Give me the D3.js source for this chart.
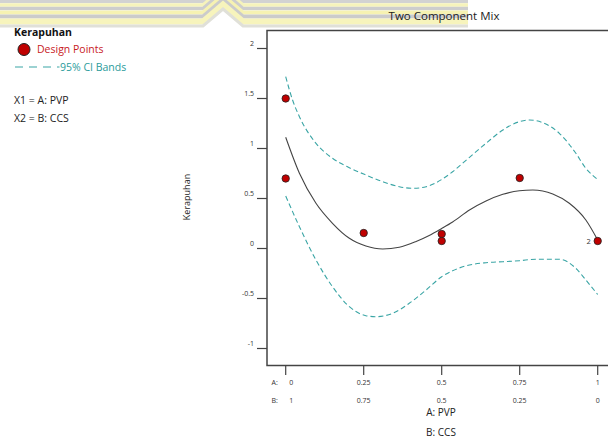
<!DOCTYPE html>
<html>
<head>
<meta charset="utf-8">
<script src="https://cdn.jsdelivr.net/npm/d3@7"></script>
<style>
  body { margin: 0; background: #fff; }
  svg { display: block; font-family: "Open Sans", "Noto Sans", sans-serif; }
</style>
</head>
<body>
<div id="chart"></div>
<script>
// design points (A: PVP fraction, response)
const pointA = [0, 0, 0.25, 0.5, 0.5, 0.75, 1];
const pointY = [1.5, 0.7, 0.155, 0.145, 0.075, 0.705, 0.075];

// fitted curve
const fitA = [0, 0.044, 0.097, 0.15, 0.204, 0.257, 0.311, 0.364, 0.418, 0.46, 0.5, 0.535, 0.589, 0.642, 0.696, 0.749, 0.792, 0.856, 0.909, 0.962, 1];
const fitY = [1.112, 0.752, 0.452, 0.252, 0.102, 0.025, -0.005, 0.012, 0.07, 0.13, 0.2, 0.265, 0.385, 0.475, 0.542, 0.578, 0.585, 0.545, 0.452, 0.285, 0.085];

// 95% CI bands
const upA = [0, 0.022, 0.044, 0.097, 0.15, 0.204, 0.257, 0.311, 0.364, 0.407, 0.45, 0.5, 0.535, 0.589, 0.642, 0.696, 0.749, 0.781, 0.824, 0.877, 0.93, 0.962, 1];
const upY = [1.718, 1.485, 1.318, 1.052, 0.902, 0.808, 0.735, 0.668, 0.618, 0.602, 0.618, 0.69, 0.768, 0.912, 1.052, 1.185, 1.268, 1.285, 1.258, 1.152, 0.952, 0.802, 0.69];
const lowA = [0, 0.044, 0.097, 0.15, 0.204, 0.257, 0.289, 0.343, 0.396, 0.45, 0.5, 0.535, 0.589, 0.642, 0.696, 0.749, 0.802, 0.877, 0.93, 0.962, 1];
const lowY = [0.525, 0.218, -0.115, -0.382, -0.582, -0.672, -0.682, -0.648, -0.548, -0.415, -0.282, -0.222, -0.165, -0.142, -0.132, -0.122, -0.108, -0.108, -0.198, -0.315, -0.46];

const xTicks = [0, 0.25, 0.5, 0.75, 1];
const aLabels = ["0", "0.25", "0.5", "0.75", "1"];
const bLabels = ["1", "0.75", "0.5", "0.25", "0"];
const yTicks = [-1, -0.5, 0, 0.5, 1, 1.5, 2];

const W = 608, H = 442;
const svg = d3.select("#chart").append("svg").attr("width", W).attr("height", H);

// faded banner at the top of the image
const banner = svg.append("g").attr("class", "banner");
const stripes = [
  {y: 1.5, c: "#d2d2d2", w: 3.5}, {y: 5, c: "#f6f3bb", w: 3.5},
  {y: 8.5, c: "#cdcdcd", w: 3.5}, {y: 12.5, c: "#f6f2b2", w: 4},
  {y: 16.5, c: "#cbcbcb", w: 4}, {y: 21.5, c: "#f7f4bc", w: 6},
  {y: 26, c: "#e0e0d8", w: 3}
];
stripes.forEach(s => {
  banner.append("path")
    .attr("d", `M0,${s.y} L203,${s.y} L223,${s.y - 17} L243,${s.y} L468,${s.y}`)
    .attr("fill", "none")
    .attr("stroke", s.c)
    .attr("stroke-width", s.w);
});

const x = d3.scaleLinear().domain([0, 1]).range([285.7, 597.7]);
const y = d3.scaleLinear().domain([-1, 2]).range([348.5, 48.5]);

const frame = {left: 267, top: 30.5, right: 614, bottom: 365.5};

// title
svg.append("text")
  .attr("x", 444).attr("y", 20)
  .attr("text-anchor", "middle")
  .attr("font-size", 11.5).attr("fill", "#222")
  .text("Two Component Mix");

// clip for curves
svg.append("clipPath").attr("id", "plotclip")
  .append("rect")
  .attr("x", frame.left).attr("y", frame.top)
  .attr("width", frame.right - frame.left).attr("height", frame.bottom - frame.top);

const plot = svg.append("g").attr("clip-path", "url(#plotclip)");

const line = d3.line()
  .x(d => x(d[0]))
  .y(d => y(d[1]))
  .curve(d3.curveMonotoneX);

plot.append("path")
  .datum(d3.zip(upA, upY))
  .attr("d", line)
  .attr("fill", "none").attr("stroke", "#3aa5a5")
  .attr("stroke-width", 1.1).attr("stroke-dasharray", "5,3");

plot.append("path")
  .datum(d3.zip(lowA, lowY))
  .attr("d", line)
  .attr("fill", "none").attr("stroke", "#3aa5a5")
  .attr("stroke-width", 1.1).attr("stroke-dasharray", "5,3");

plot.append("path")
  .datum(d3.zip(fitA, fitY))
  .attr("d", line)
  .attr("fill", "none").attr("stroke", "#444")
  .attr("stroke-width", 1.1);

// frame
svg.append("rect")
  .attr("x", frame.left).attr("y", frame.top)
  .attr("width", frame.right - frame.left).attr("height", frame.bottom - frame.top)
  .attr("fill", "none").attr("stroke", "#444").attr("stroke-width", 1.5);

// y axis
const yAxis = svg.append("g").attr("class", "y-axis");
yAxis.selectAll("line").data(yTicks).enter().append("line")
  .attr("x1", 257).attr("x2", frame.left)
  .attr("y1", d => y(d)).attr("y2", d => y(d))
  .attr("stroke", "#444").attr("stroke-width", 1.2);
yAxis.selectAll("text").data(yTicks).enter().append("text")
  .attr("x", 254).attr("y", d => y(d) - 2.5)
  .attr("text-anchor", "end").attr("font-size", 7).attr("fill", "#333")
  .text(d => d);

svg.append("text")
  .attr("transform", "translate(190,197) rotate(-90)")
  .attr("text-anchor", "middle").attr("font-size", 9).attr("fill", "#222")
  .text("Kerapuhan");

// x axis
const xAxis = svg.append("g").attr("class", "x-axis");
xAxis.selectAll("line").data(xTicks).enter().append("line")
  .attr("x1", d => x(d)).attr("x2", d => x(d))
  .attr("y1", frame.bottom).attr("y2", 375)
  .attr("stroke", "#444").attr("stroke-width", 1.2);
xAxis.selectAll("text.a").data(xTicks).enter().append("text")
  .attr("class", "a")
  .attr("x", (d, i) => i === 0 ? x(d) + 5.5 : x(d)).attr("y", 385)
  .attr("text-anchor", "middle").attr("font-size", 7).attr("fill", "#333")
  .text((d, i) => aLabels[i]);
xAxis.selectAll("text.b").data(xTicks).enter().append("text")
  .attr("class", "b")
  .attr("x", (d, i) => i === 0 ? x(d) + 5.5 : x(d)).attr("y", 403)
  .attr("text-anchor", "middle").attr("font-size", 7).attr("fill", "#333")
  .text((d, i) => bLabels[i]);
xAxis.append("text").attr("x", 271.5).attr("y", 385)
  .attr("font-size", 7).attr("fill", "#333").text("A:");
xAxis.append("text").attr("x", 271.5).attr("y", 403)
  .attr("font-size", 7).attr("fill", "#333").text("B:");

svg.append("text").attr("x", 441).attr("y", 416)
  .attr("text-anchor", "middle").attr("font-size", 10).attr("fill", "#222")
  .text("A: PVP");
svg.append("text").attr("x", 441).attr("y", 436)
  .attr("text-anchor", "middle").attr("font-size", 10).attr("fill", "#222")
  .text("B: CCS");

// design points
svg.append("g").selectAll("circle")
  .data(d3.zip(pointA, pointY)).enter().append("circle")
  .attr("cx", d => x(d[0])).attr("cy", d => y(d[1]))
  .attr("r", 3.7)
  .attr("fill", "#c00000").attr("stroke", "#222").attr("stroke-width", 0.8);

svg.append("text")
  .attr("x", x(1) - 7).attr("y", y(pointY[6]) + 2.5)
  .attr("text-anchor", "end").attr("font-size", 7.5).attr("fill", "#333")
  .text("2");

// legend
const legend = svg.append("g").attr("class", "legend");
legend.append("text").attr("x", 14).attr("y", 36)
  .attr("font-size", 10.5).attr("font-weight", "bold").attr("fill", "#111")
  .text("Kerapuhan");
legend.append("circle").attr("cx", 24).attr("cy", 49.5).attr("r", 6)
  .attr("fill", "#c00000").attr("stroke", "#222").attr("stroke-width", 1);
legend.append("text").attr("x", 37).attr("y", 53)
  .attr("font-size", 10.5).attr("fill", "#c8201e")
  .text("Design Points");
legend.append("line").attr("x1", 15).attr("x2", 59.5).attr("y1", 67).attr("y2", 67)
  .attr("stroke", "#3aa5a5").attr("stroke-width", 1.2).attr("stroke-dasharray", "8,6");
legend.append("text").attr("x", 60).attr("y", 71)
  .attr("font-size", 10.5).attr("fill", "#2a9b9b")
  .text("95% CI Bands");
legend.append("text").attr("x", 14).attr("y", 103.5)
  .attr("font-size", 10.5).attr("fill", "#222")
  .text("X1 = A: PVP");
legend.append("text").attr("x", 14).attr("y", 122)
  .attr("font-size", 10.5).attr("fill", "#222")
  .text("X2 = B: CCS");
</script>
</body>
</html>
